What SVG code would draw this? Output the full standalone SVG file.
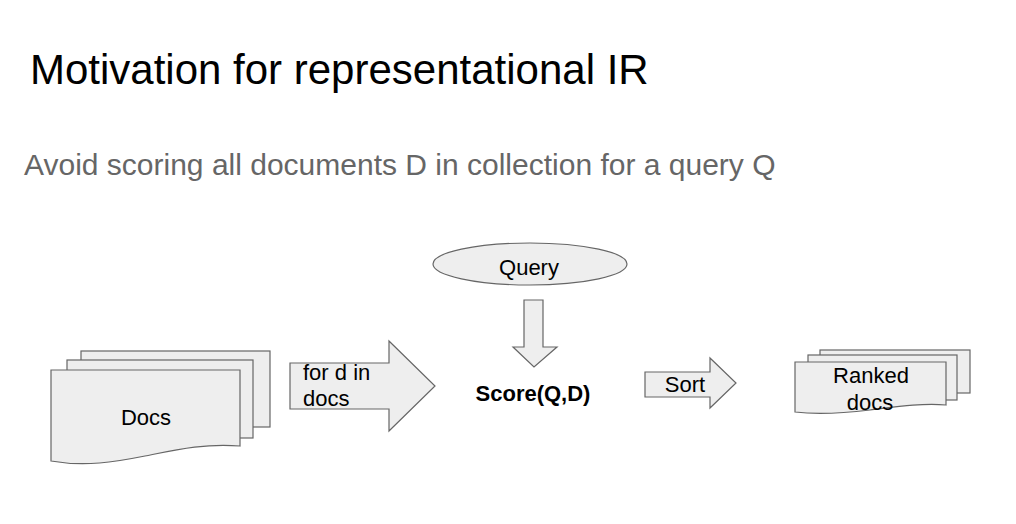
<svg xmlns="http://www.w3.org/2000/svg" width="1016" height="524" viewBox="0 0 1016 524">
<style>
.shape{fill:#eeeeee;stroke:#666666;stroke-width:1.2;stroke-linejoin:miter}
.lbl{font-family:"Liberation Sans",Arial,sans-serif;font-size:22px;fill:#000}
.title{font-family:"Liberation Sans",Arial,sans-serif;font-size:42px;fill:#000}
.sub{font-family:"Liberation Sans",Arial,sans-serif;font-size:30px;fill:#666666}
</style>
<rect width="1016" height="524" fill="#ffffff"/>
<text class="title" x="30" y="84">Motivation for representational IR</text>
<text class="sub" x="24" y="175">Avoid scoring all documents D in collection for a query Q</text>
<g id="docs">
<rect class="shape" x="81" y="351" width="189" height="76"/>
<rect class="shape" x="67" y="360" width="186" height="78"/>
<path class="shape" d="M51,370 L240,370 L240,446 C205,443 175,450 145,456 C115,462 85,467 51,461 Z"/>
<text class="lbl" x="146" y="425" text-anchor="middle">Docs</text>
</g>
<g id="query">
<ellipse class="shape" cx="530" cy="264" rx="97" ry="21"/>
<text class="lbl" x="529" y="275" text-anchor="middle">Query</text>
</g>
<g id="score">
<text class="lbl" x="533" y="401" text-anchor="middle" font-weight="bold" font-size="23">Score(Q,D)</text>
</g>
<g id="ranked">
<rect class="shape" x="820" y="350" width="150" height="43"/>
<rect class="shape" x="808" y="355" width="149" height="45"/>
<path class="shape" d="M795,362 L946,362 L946,405 C920,403 895,407 870,410 C845,413 820,415 795,412 Z"/>
<text class="lbl" x="871" y="383" text-anchor="middle">Ranked</text>
<text class="lbl" x="870" y="410" text-anchor="middle">docs</text>
</g>
<g id="connectors">
<g id="arrow-for">
<path class="shape" d="M290,363 L389,363 L389,341 L435,386 L389,431 L389,409 L290,409 Z"/>
<text class="lbl" x="303" y="380">for d in</text>
<text class="lbl" x="303" y="406">docs</text>
</g>
<g id="arrow-down">
<path class="shape" d="M524,300 L543,300 L543,347 L557,347 L534,367 L513,347 L524,347 Z"/>
</g>
<g id="arrow-sort">
<path class="shape" d="M645,372 L710,372 L710,358 L736,383 L710,408 L710,397 L645,397 Z"/>
<text class="lbl" x="685" y="392" text-anchor="middle">Sort</text>
</g>
</g>
</svg>
